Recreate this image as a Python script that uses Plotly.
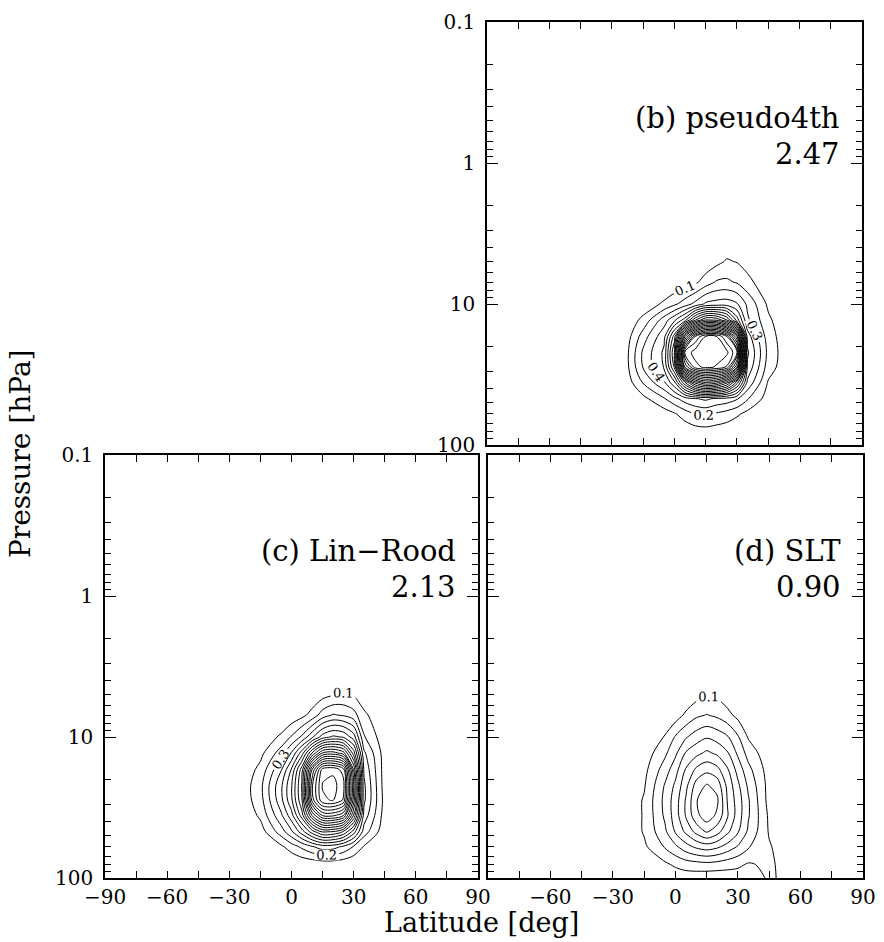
import plotly.graph_objects as go

# ---------------- data ----------------
LAT = [-40, -25, -15, -5, 0, 5, 10, 15, 20, 25, 30, 35, 45, 55, 70]
PRES = [3, 5, 7, 10, 13, 17, 22, 28, 36, 47, 60, 80, 100]

# (b) pseudo4th, max 2.47
Z_B = [
    [0, 0, 0, 0, 0, 0, 0, 0, 0, 0, 0, 0, 0, 0, 0],
    [0, 0, 0, 0, 0, 0, 0.01, 0.03, 0.07, 0.11, 0.095, 0.06, 0, 0, 0],
    [0, 0, 0, 0, 0.02, 0.04, 0.08, 0.15, 0.21, 0.22, 0.19, 0.13, 0.03, 0, 0],
    [0, 0, 0.03, 0.12, 0.18, 0.25, 0.33, 0.42, 0.44, 0.45, 0.41, 0.28, 0.08, 0, 0],
    [0, 0, 0.13, 0.35, 0.48, 0.65, 0.99, 1.21, 1.19, 1.01, 0.65, 0.32, 0.12, 0.01, 0],
    [0, 0, 0.25, 0.47, 0.85, 1.69, 2.21, 2.41, 2.41, 2.21, 1.71, 0.45, 0.15, 0.02, 0],
    [0, 0.01, 0.32, 0.52, 1.01, 2.32, 2.45, 2.47, 2.46, 2.43, 2.21, 0.52, 0.17, 0.02, 0],
    [0, 0.01, 0.31, 0.51, 0.92, 2.01, 2.36, 2.43, 2.39, 2.29, 1.81, 0.48, 0.15, 0.02, 0],
    [0, 0, 0.21, 0.39, 0.58, 0.99, 1.35, 1.51, 1.45, 1.25, 0.85, 0.38, 0.09, 0, 0],
    [0, 0, 0.07, 0.19, 0.27, 0.35, 0.39, 0.42, 0.38, 0.36, 0.31, 0.21, 0.05, 0, 0],
    [0, 0, 0, 0.05, 0.09, 0.15, 0.21, 0.22, 0.19, 0.16, 0.12, 0.07, 0, 0, 0],
    [0, 0, 0, 0, 0, 0.03, 0.05, 0.06, 0.05, 0.04, 0.01, 0, 0, 0, 0],
    [0, 0, 0, 0, 0, 0, 0, 0, 0, 0, 0, 0, 0, 0, 0],
]

# (c) Lin-Rood, max 2.13
Z_C = [
    [0, 0, 0, 0, 0, 0, 0, 0, 0, 0, 0, 0, 0, 0, 0],
    [0, 0, 0, 0, 0, 0, 0.02, 0.06, 0.09, 0.11, 0.09, 0.04, 0, 0, 0],
    [0, 0, 0, 0, 0.03, 0.07, 0.14, 0.25, 0.31, 0.29, 0.24, 0.12, 0.02, 0, 0],
    [0, 0, 0.02, 0.12, 0.21, 0.32, 0.48, 0.65, 0.72, 0.69, 0.55, 0.21, 0.03, 0, 0],
    [0, 0, 0.07, 0.25, 0.41, 0.65, 1.01, 1.31, 1.35, 1.25, 0.85, 0.32, 0.05, 0, 0],
    [0, 0.01, 0.13, 0.39, 0.61, 0.95, 1.61, 2.05, 2.08, 1.95, 1.19, 0.38, 0.05, 0, 0],
    [0, 0.02, 0.17, 0.48, 0.69, 1.01, 1.79, 2.11, 2.13, 2.05, 1.31, 0.42, 0.05, 0, 0],
    [0, 0.02, 0.16, 0.47, 0.68, 0.99, 1.75, 2.08, 2.11, 1.99, 1.25, 0.42, 0.06, 0, 0],
    [0, 0, 0.12, 0.38, 0.56, 0.85, 1.31, 1.61, 1.62, 1.51, 0.99, 0.36, 0.05, 0, 0],
    [0, 0, 0.05, 0.25, 0.38, 0.55, 0.75, 0.91, 0.89, 0.79, 0.55, 0.25, 0.03, 0, 0],
    [0, 0, 0, 0.08, 0.15, 0.22, 0.29, 0.35, 0.34, 0.28, 0.19, 0.09, 0, 0, 0],
    [0, 0, 0, 0, 0, 0.02, 0.03, 0.04, 0.04, 0.03, 0.01, 0, 0, 0, 0],
    [0, 0, 0, 0, 0, 0, 0, 0, 0, 0, 0, 0, 0, 0, 0],
]

# (d) SLT, max 0.90
Z_D = [
    [0, 0, 0, 0, 0, 0, 0, 0, 0, 0, 0, 0, 0, 0, 0],
    [0, 0, 0, 0, 0, 0.02, 0.06, 0.095, 0.08, 0.04, 0.01, 0, 0, 0, 0],
    [0, 0, 0, 0, 0.05, 0.12, 0.18, 0.205, 0.18, 0.13, 0.07, 0.03, 0, 0, 0],
    [0, 0, 0, 0.11, 0.21, 0.29, 0.35, 0.39, 0.36, 0.31, 0.21, 0.09, 0.01, 0, 0],
    [0, 0, 0.04, 0.18, 0.28, 0.41, 0.47, 0.52, 0.48, 0.41, 0.28, 0.16, 0.03, 0, 0],
    [0, 0.01, 0.07, 0.25, 0.36, 0.51, 0.62, 0.67, 0.63, 0.51, 0.36, 0.23, 0.05, 0, 0],
    [0, 0.02, 0.09, 0.31, 0.42, 0.57, 0.74, 0.81, 0.76, 0.57, 0.42, 0.28, 0.06, 0, 0],
    [0, 0.02, 0.11, 0.33, 0.45, 0.61, 0.79, 0.89, 0.82, 0.59, 0.45, 0.31, 0.06, 0, 0],
    [0, 0.02, 0.11, 0.32, 0.45, 0.61, 0.77, 0.86, 0.78, 0.61, 0.45, 0.31, 0.08, 0, 0],
    [0, 0.01, 0.11, 0.28, 0.41, 0.52, 0.63, 0.71, 0.64, 0.52, 0.41, 0.28, 0.09, 0.02, 0],
    [0, 0, 0.08, 0.21, 0.28, 0.36, 0.42, 0.45, 0.42, 0.36, 0.29, 0.21, 0.11, 0.03, 0],
    [0, 0, 0.02, 0.08, 0.12, 0.15, 0.16, 0.17, 0.16, 0.14, 0.12, 0.09, 0.12, 0.05, 0],
    [0, 0, 0, 0.02, 0.03, 0.04, 0.04, 0.03, 0.03, 0.04, 0.05, 0.06, 0.11, 0.08, 0],
]

PANEL_NAMES = ["(b) pseudo4th", "(c) Lin\u2212Rood", "(d) SLT"]
PANEL_VALUES = ["2.47", "2.13", "0.90"]

X_TICKS = [-90, -75, -60, -45, -30, -15, 0, 15, 30, 45, 60, 75, 90]
X_TEXT_FULL = ["\u221290", "", "\u221260", "", "\u221230", "", "0", "", "30", "", "60", "", "90"]
X_TEXT_D = ["", "", "\u221260", "", "\u221230", "", "0", "", "30", "", "60", "", "90"]
Y_TICKS = [0.1, 1, 10, 100]
Y_TEXT = ["0.1", "1", "10", "100"]
Y_MINOR = [0.2, 0.3, 0.4, 0.5, 0.6, 0.7, 0.8, 0.9,
           2, 3, 4, 5, 6, 7, 8, 9,
           20, 30, 40, 50, 60, 70, 80, 90]

FONT = "DejaVu Serif"

fig = go.Figure()


def add_panel(z, lab_end, top_end, xa, ya):
    fig.add_trace(go.Contour(
        x=LAT, y=PRES, z=z, autocontour=False,
        contours=dict(coloring="none", start=0.1, end=lab_end, size=0.1,
                      showlabels=True, labelformat=".1f",
                      labelfont=dict(family=FONT, size=13, color="black")),
        line=dict(color="black", width=1, smoothing=0.9),
        showscale=False, hoverinfo="skip", xaxis=xa, yaxis=ya))
    fig.add_trace(go.Contour(
        x=LAT, y=PRES, z=z, autocontour=False,
        contours=dict(coloring="none", start=lab_end + 0.1, end=top_end, size=0.1,
                      showlabels=False),
        line=dict(color="black", width=1, smoothing=0.9),
        showscale=False, hoverinfo="skip", xaxis=xa, yaxis=ya))


add_panel(Z_B, 0.4, 2.4, "x", "y")
add_panel(Z_C, 0.3, 2.1, "x2", "y2")
add_panel(Z_D, 0.1, 0.8, "x3", "y3")


def xaxis(domain, anchor, text, show):
    return dict(domain=domain, anchor=anchor, range=[-90, 90], automargin=False,
                tickmode="array", tickvals=X_TICKS, ticktext=text,
                showticklabels=show, ticks="inside", ticklen=7, tickwidth=1,
                tickcolor="black", showline=True, linecolor="black", linewidth=1.5,
                mirror="allticks", showgrid=False, zeroline=False,
                tickfont=dict(family=FONT, size=20, color="black"))


def yaxis(domain, anchor, show):
    return dict(domain=domain, anchor=anchor, type="log", range=[2, -1],
                automargin=False,
                tickmode="array", tickvals=Y_TICKS, ticktext=Y_TEXT,
                showticklabels=show, ticks="inside", ticklen=11, tickwidth=1,
                tickcolor="black",
                minor=dict(tickmode="array", tickvals=Y_MINOR, ticks="inside",
                           ticklen=6, tickwidth=1, tickcolor="black", showgrid=False),
                showline=True, linecolor="black", linewidth=1.5,
                mirror="allticks", showgrid=False, zeroline=False,
                ticklabelstandoff=6,
                tickfont=dict(family=FONT, size=20, color="black"))


top_dom = [0.5276, 0.9766]
bot_dom = [0.0679, 0.5170]

fig.update_layout(
    width=884, height=942,
    margin=dict(l=0, r=0, t=0, b=0, autoexpand=False),
    paper_bgcolor="white", plot_bgcolor="white",
    showlegend=False,
    xaxis=xaxis([0.5509, 0.9751], "y", X_TEXT_FULL, False),
    yaxis=yaxis(top_dom, "x", True),
    xaxis2=xaxis([0.1188, 0.5407], "y2", X_TEXT_FULL, True),
    yaxis2=yaxis(bot_dom, "x2", True),
    xaxis3=xaxis([0.5520, 0.9762], "y3", X_TEXT_D, True),
    yaxis3=yaxis(bot_dom, "x3", False),
)

annotations = []
for i, (xr, yr) in enumerate([("x", "y"), ("x2", "y2"), ("x3", "y3")]):
    annotations.append(dict(xref=xr + " domain", yref=yr + " domain", x=0.945, y=0.774,
                            xanchor="right", yanchor="middle", showarrow=False,
                            text=PANEL_NAMES[i], borderpad=0,
                            font=dict(family=FONT, size=29, color="black")))
    annotations.append(dict(xref=xr + " domain", yref=yr + " domain", x=0.945, y=0.688,
                            xanchor="right", yanchor="middle", showarrow=False,
                            text=PANEL_VALUES[i], borderpad=0,
                            font=dict(family=FONT, size=29, color="black")))

annotations.append(dict(xref="paper", yref="paper", x=0.0226, y=0.519,
                        xanchor="center", yanchor="middle", showarrow=False,
                        text="Pressure [hPa]", textangle=-90,
                        font=dict(family=FONT, size=28, color="black")))
annotations.append(dict(xref="paper", yref="paper", x=0.545, y=0.0205,
                        xanchor="center", yanchor="middle", showarrow=False,
                        text="Latitude [deg]",
                        font=dict(family=FONT, size=27, color="black")))
fig.update_layout(annotations=annotations)

fig.write_html("out.html")
